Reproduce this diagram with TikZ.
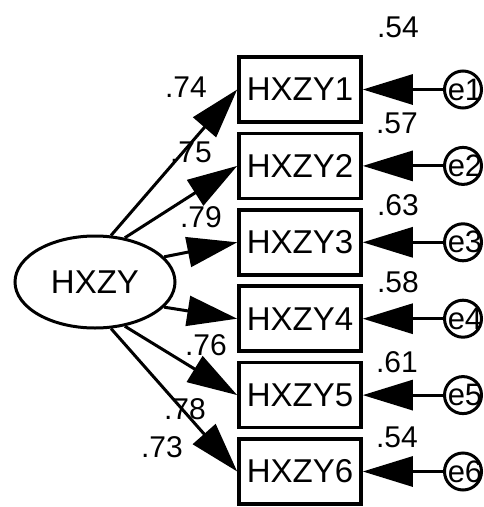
\documentclass[tikz,border=0pt]{standalone}
\usepackage{fontspec}
\setmainfont{Liberation Sans}
\usetikzlibrary{arrows.meta,shapes.geometric}
\begin{document}
\begin{tikzpicture}[x=1pt,y=-1pt,
  obs/.style={draw, line width=3.6pt, minimum width=122pt, minimum height=65pt, inner sep=0pt, font=\fontsize{33}{36}\selectfont},
  lat/.style={ellipse, draw, line width=3pt, minimum width=160pt, minimum height=92pt, inner sep=0pt, font=\fontsize{33}{36}\selectfont},
  err/.style={circle, draw, line width=3pt, minimum size=37pt, inner sep=0pt},
  etxt/.style={inner sep=0pt, font=\fontsize{31}{34}\selectfont},
  lbl/.style={inner sep=0pt, font=\fontsize{30}{33}\selectfont},
  arr/.style={line width=3pt, -{Triangle[length=50pt,width=30pt]}}]
\useasboundingbox (0,0) rectangle (483,507);
\node[lat] (hx) at (95,282) {HXZY};
\foreach \i/\y in {1/89.5,2/165.9,3/242.3,4/318.7,5/395.1,6/471.5}{
  \node[obs] (b\i) at (300,\y) {HXZY\i};
  \node[err] (e\i) at (463,\y) {};
  \node[etxt] (t\i) at (465,\y) {e\i};
  \draw[arr] (e\i.west) -- (b\i.east);
}
\draw[arr] (hx.71) -- (b1.west);
\draw[arr] (hx.56) -- (b2.west);
\draw[arr] (hx.20) -- (b3.west);
\draw[arr] (hx.-20) -- (b4.west);
\draw[arr] (hx.-56) -- (b5.west);
\draw[arr] (hx.-71) -- (b6.west);
\node[lbl] (r1) at (398,27) {.54};
\node[lbl] (r2) at (397,123) {.57};
\node[lbl] (r3) at (398,205) {.63};
\node[lbl] (r4) at (398,282) {.58};
\node[lbl] (r5) at (397,362) {.61};
\node[lbl] (r6) at (397,437) {.54};
\node[lbl] (l1) at (186,87) {.74};
\node[lbl] (l2) at (191,152) {.75};
\node[lbl] (l3) at (201,217) {.79};
\node[lbl] (l4) at (206,345) {.76};
\node[lbl] (l5) at (185,409) {.78};
\node[lbl] (l6) at (162,447) {.73};
\end{tikzpicture}
\end{document}
